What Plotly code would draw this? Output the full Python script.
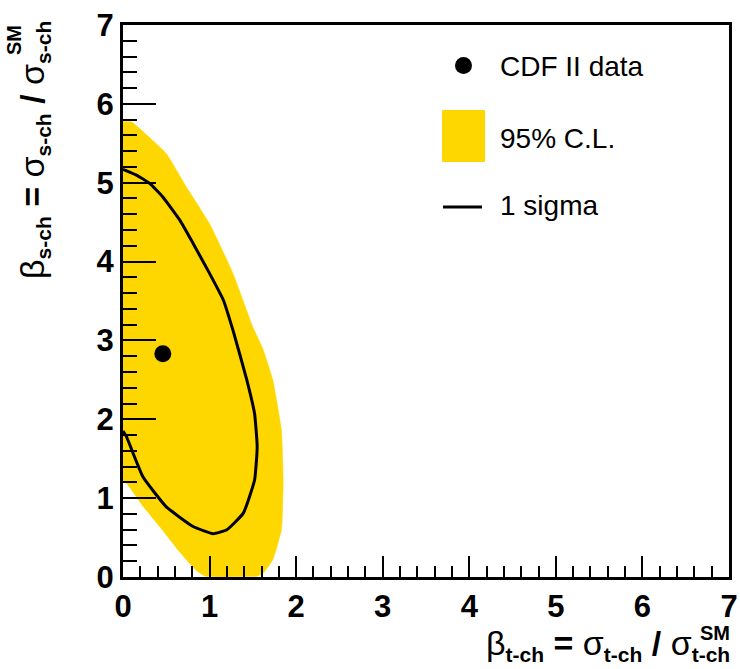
import plotly.graph_objects as go

# ---- data ----
cl95_x = [0.0, 0.10, 0.30, 0.50, 0.73, 1.00, 1.27, 1.50, 1.62, 1.73, 1.83, 1.85,
          1.83, 1.73, 1.62, 1.55, 0.95, 0.85, 0.66, 0.43, 0.23, 0.04, 0.0]
cl95_y = [5.78, 5.77, 5.58, 5.37, 4.95, 4.48, 3.85, 3.17, 2.88, 2.50, 1.86, 1.23,
          0.60, 0.22, 0.05, 0.01, 0.01, 0.08, 0.31, 0.63, 0.90, 1.19, 1.22]

sig1_x = [0.0, 0.15, 0.31, 0.46, 0.66, 0.81, 1.00, 1.16, 1.27, 1.43, 1.52, 1.55,
          1.52, 1.39, 1.20, 1.04, 0.81, 0.50, 0.23, 0.04, 0.0]
sig1_y = [5.17, 5.10, 4.99, 4.82, 4.52, 4.23, 3.85, 3.51, 3.13, 2.50, 2.07, 1.65,
          1.23, 0.81, 0.60, 0.55, 0.64, 0.89, 1.27, 1.78, 1.85]

data_x = [0.46]
data_y = [2.83]

tick_vals = [0, 1, 2, 3, 4, 5, 6, 7]
tick_text = [str(v) for v in tick_vals]
legend_labels = ["CDF II data", "95% C.L.", "1 sigma"]

GOLD = "#FFD700"
FONT = "Liberation Sans"

W, H = 740, 669
L, R, T, B = 123, 729, 25, 577


def px(xp):
    return (xp - L) / (R - L)


def py(yp):
    return (B - yp) / (B - T)


def sub(s):
    return "<sub><span style='font-size:21px'><b>" + s + "</b></span></sub>"


fig = go.Figure()
fig.add_trace(go.Scatter(x=cl95_x, y=cl95_y, mode="lines", fill="toself",
                         fillcolor=GOLD, line=dict(color=GOLD, width=0.5,
                                                   shape="spline", smoothing=0.4),
                         hoverinfo="skip", showlegend=False))
fig.add_trace(go.Scatter(x=sig1_x, y=sig1_y, mode="lines",
                         line=dict(color="black", width=3, shape="spline", smoothing=0.4),
                         showlegend=False))
fig.add_trace(go.Scatter(x=data_x, y=data_y, mode="markers",
                         marker=dict(color="black", size=17), showlegend=False))

common = dict(range=[0, 7], showgrid=False, zeroline=False, showline=True,
              linecolor="black", linewidth=3, mirror=True, ticks="inside",
              tickcolor="black", tickwidth=2, tickvals=tick_vals, ticktext=tick_text,
              tickfont=dict(family=FONT, size=31, color="black", weight="bold"),
              automargin=False)

fig.update_xaxes(**common, ticklen=21,
                 minor=dict(ticks="inside", dtick=0.2, ticklen=11, tickwidth=2,
                            tickcolor="black", showgrid=False))
fig.update_yaxes(**common, ticklen=33,
                 minor=dict(ticks="inside", dtick=0.2, ticklen=14, tickwidth=2,
                            tickcolor="black", showgrid=False))

ann = []
# x-axis title
ann.append(dict(xref="paper", yref="paper", x=px(732), y=py(645),
                xanchor="right", yanchor="middle", showarrow=False,
                text="β" + sub("t-ch") + " <b>=</b> σ" + sub("t-ch") + " <b>/</b> σ" + sub("t-ch"),
                font=dict(family=FONT, size=34, color="black")))
ann.append(dict(xref="paper", yref="paper", x=px(698), y=py(633),
                xanchor="left", yanchor="middle", showarrow=False,
                text="<b>SM</b>", font=dict(family=FONT, size=20, color="black")))
# y-axis title
ann.append(dict(xref="paper", yref="paper", x=px(34), y=py(150),
                xanchor="center", yanchor="middle", showarrow=False, textangle=-90,
                text="β" + sub("s-ch") + " <b>=</b> σ" + sub("s-ch") + " <b>/</b> σ" + sub("s-ch"),
                font=dict(family=FONT, size=34, color="black")))
ann.append(dict(xref="paper", yref="paper", x=px(14), y=py(40),
                xanchor="center", yanchor="middle", showarrow=False, textangle=-90,
                text="<b>SM</b>", font=dict(family=FONT, size=20, color="black")))

# legend text
for lab, yc in zip(legend_labels, [66, 138, 205]):
    ann.append(dict(xref="paper", yref="paper", x=px(498), y=py(yc),
                    xanchor="left", yanchor="middle", showarrow=False,
                    text=lab, font=dict(family=FONT, size=28, color="black")))

shapes = [
    dict(type="circle", xref="paper", yref="paper", x0=px(455), x1=px(472),
         y0=py(74), y1=py(57), fillcolor="black", line=dict(width=0)),
    dict(type="rect", xref="paper", yref="paper", x0=px(442), x1=px(485),
         y0=py(162), y1=py(110), fillcolor=GOLD, line=dict(width=0)),
    dict(type="line", xref="paper", yref="paper", x0=px(443), x1=px(482),
         y0=py(207), y1=py(207), line=dict(color="black", width=3)),
]

fig.update_layout(width=W, height=H,
                  margin=dict(l=L, r=W - R, t=T, b=H - B, autoexpand=False),
                  paper_bgcolor="white", plot_bgcolor="white",
                  annotations=ann, shapes=shapes, showlegend=False)

fig.write_html("out.html")
